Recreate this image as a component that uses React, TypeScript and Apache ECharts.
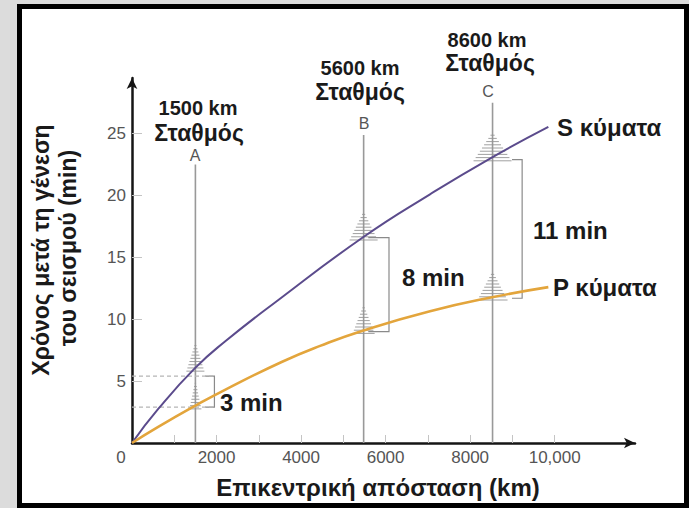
import React, { useEffect, useRef } from "react";
import * as echarts from "echarts";

// ---- axis ticks / labels ----
const xLabelValues = [0, 2000, 4000, 6000, 8000, 10000];
const xTickValues = [1000, 2000, 3000, 4000, 5000, 6000, 7000, 8000, 9000, 10000];
const yLabelValues = [0, 5, 10, 15, 20, 25];
const yTickValues = [5, 10, 15, 20, 25];

// ---- travel-time curves (distance km, time min) ----
const sWaveDist = [0, 620, 1490, 2200, 3400, 5475, 7050, 8500, 9850];
const sWaveTime = [0, 2.75, 6.05, 8.2, 11.4, 16.65, 20.1, 23.05, 25.55];
const pWaveDist = [0, 620, 1490, 2200, 3540, 4450, 5475, 7050, 8550, 9850];
const pWaveTime = [0, 1.3, 3.0, 4.3, 6.55, 7.85, 9.1, 10.65, 11.8, 12.6];

// ---- stations ----
const stationLetters = ["A", "B", "C"];
const stationDistLabels = ["1500 km", "5600 km", "8600 km"];
const stationX = [1500, 5480, 8530];
const stationTop = [22.5, 24.9, 27.5];
const stationP = [3.0, 9.1, 11.8];
const stationS = [6.05, 16.65, 23.05];

// ---- S-P gap brackets ----
const gapLabels = ["3 min", "8 min", "11 min"];
const bracketX = [1950, 6080, 9230];
const bracketLeft = [1730, 5590, 8990];
const bracketTop = [5.4, 16.6, 22.9];
const bracketBottom = [2.9, 9.0, 11.7];
const guideLevels = [5.4, 2.9];
const guideEnd = 1950;

const FONT = "'Liberation Sans', Arial, Helvetica, sans-serif";

export default function App() {
  const ref = useRef<HTMLDivElement>(null);

  useEffect(() => {
    document.body.style.margin = "0";
    if (!ref.current) return;
    const chart = echarts.init(ref.current, null, { renderer: "svg" });

    const sBurst = [9, 14, 19];
    const pBurst = [6, 11, 15];

    const stationPos = [
      { d: [198, 108], s: [199, 133], l: [195, 155] },
      { d: [360, 68], s: [360, 92], l: [364, 123] },
      { d: [487, 40], s: [490, 63], l: [488, 91] },
    ];
    const gapPos = [
      [220, 402],
      [402, 277],
      [533, 230],
    ];

    const bold = (text: string, x: number, y: number, size: number, align = "left", extra: any = {}) => ({
      type: "text",
      x,
      y,
      ...extra,
      style: { text, fontFamily: FONT, fontSize: size, fontWeight: "bold", fill: "#1a1a1a", textAlign: align, textVerticalAlign: "middle" },
    });

    const texts: any[] = [];
    stationLetters.forEach((letter, i) => {
      const p = stationPos[i];
      texts.push(bold(stationDistLabels[i], p.d[0], p.d[1], 20, "center"));
      texts.push(bold("Σταθμός", p.s[0], p.s[1], 23, "center"));
      texts.push({
        type: "text", x: p.l[0], y: p.l[1],
        style: { text: letter, fontFamily: FONT, fontSize: 16, fill: "#555", textAlign: "center", textVerticalAlign: "middle" },
      });
    });
    gapLabels.forEach((g, i) => texts.push(bold(g, gapPos[i][0], gapPos[i][1], 24)));
    texts.push(bold("S κύματα", 557, 127, 24));
    texts.push(bold("P κύματα", 553, 287, 24));
    texts.push(bold("Επικεντρική απόσταση (km)", 378, 487, 24, "center"));
    texts.push(bold("Χρόνος μετά τη γένεση", 41, 250, 23, "center", { rotation: Math.PI / 2 }));
    texts.push(bold("του σεισμού (min)", 68, 248, 23, "center", { rotation: Math.PI / 2 }));

    const option: any = {
      animation: false,
      backgroundColor: "transparent",
      grid: { left: 132, top: 78, right: 54, bottom: 65, containLabel: false, outerBoundsMode: "none" },
      xAxis: {
        type: "value",
        min: 0,
        max: 11900,
        axisLine: {
          show: true, onZero: false,
          symbol: ["none", "arrow"], symbolSize: [8, 11],
          lineStyle: { color: "#151515", width: 2.5 },
        },
        axisTick: { show: true, inside: true, length: 8, customValues: xTickValues, lineStyle: { color: "#c4c4c4", width: 1 } },
        axisLabel: {
          customValues: xLabelValues,
          margin: 6,
          color: "#555",
          fontFamily: FONT,
          fontSize: 17,
          formatter: (v: number) => (v === 0 ? "{z|0}" : v === 10000 ? "10,000" : String(v)),
          rich: { z: { padding: [0, 22, 0, 0], color: "#555", fontFamily: FONT, fontSize: 17 } },
        },
        splitLine: { show: false },
      },
      yAxis: {
        type: "value",
        min: 0,
        max: 29.5,
        axisLine: {
          show: true, onZero: false,
          symbol: ["none", "arrow"], symbolSize: [8, 11],
          lineStyle: { color: "#151515", width: 2.5 },
        },
        axisTick: { show: true, inside: true, length: 10, customValues: yTickValues, lineStyle: { color: "#c4c4c4", width: 1 } },
        axisLabel: {
          customValues: yLabelValues,
          margin: 6,
          color: "#555",
          fontFamily: FONT,
          fontSize: 17,
          formatter: (v: number) => (v === 0 ? "" : String(v)),
        },
        splitLine: { show: false },
      },
      graphic: { elements: texts },
      series: [
        {
          type: "custom",
          name: "traces",
          z: 1,
          encode: { x: 0, y: 1 },
          data: stationX.map((x, i) => [x, stationTop[i], stationP[i], stationS[i], i]),
          renderItem: (params: any, api: any) => {
            const x = api.value(0);
            const top = api.value(1);
            const idx = api.value(4);
            const base = api.coord([x, 0]);
            const tp = api.coord([x, top]);
            const children: any[] = [
              { type: "line", shape: { x1: base[0], y1: base[1], x2: tp[0], y2: tp[1] }, style: { stroke: "#999", lineWidth: 1.6 } },
            ];
            const arrivals: [number, number][] = [
              [api.value(2), pBurst[idx]],
              [api.value(3), sBurst[idx]],
            ];
            arrivals.forEach(([t, w]) => {
              const c = api.coord([x, t]);
              for (let k = 0; k < 9; k++) {
                const hw = w * (1 - k / 9);
                const yy = c[1] + 3 - k * 3.2;
                children.push({
                  type: "line",
                  shape: { x1: c[0] - hw, y1: yy, x2: c[0] + hw, y2: yy },
                  style: { stroke: "#959595", lineWidth: 0.9 },
                });
              }
            });
            return { type: "group", children };
          },
        },
        {
          type: "custom",
          name: "brackets",
          z: 1,
          encode: { x: 0, y: 1 },
          data: bracketX.map((x, i) => [x, bracketTop[i], bracketBottom[i], bracketLeft[i]]),
          renderItem: (params: any, api: any) => {
            const bx = api.value(0);
            const lt = api.value(3);
            const a = api.coord([lt, api.value(1)]);
            const b = api.coord([bx, api.value(1)]);
            const c = api.coord([bx, api.value(2)]);
            const d = api.coord([lt, api.value(2)]);
            return {
              type: "polyline",
              shape: { points: [a, b, c, d] },
              style: { stroke: "#8a8a8a", lineWidth: 1.2, fill: "none" },
            };
          },
        },
        ...guideLevels.map((lvl) => ({
          type: "line",
          z: 1,
          silent: true,
          showSymbol: false,
          data: [[0, lvl], [guideEnd, lvl]],
          lineStyle: { color: "#b5b5b5", width: 1.2, type: [4, 3] },
        })),
        {
          type: "line",
          name: "S κύματα",
          z: 3,
          smooth: 0.5,
          showSymbol: false,
          data: sWaveDist.map((d, i) => [d, sWaveTime[i]]),
          lineStyle: { color: "#5b4b8c", width: 2 },
        },
        {
          type: "line",
          name: "P κύματα",
          z: 3,
          smooth: 0.5,
          showSymbol: false,
          data: pWaveDist.map((d, i) => [d, pWaveTime[i]]),
          lineStyle: { color: "#e3a53c", width: 2.6 },
        },
      ],
    };

    chart.setOption(option);
    return () => chart.dispose();
  }, []);

  return (
    <div style={{ position: "relative", width: 689, height: 508, background: "#dcdcdc", overflow: "hidden" }}>
      <div
        style={{
          position: "absolute", left: 17, top: 4, width: 672, height: 504,
          boxSizing: "border-box", border: "5px solid #000", background: "#fff",
        }}
      />
      <div ref={ref} style={{ position: "absolute", left: 0, top: 0, width: 689, height: 508 }} />
    </div>
  );
}
